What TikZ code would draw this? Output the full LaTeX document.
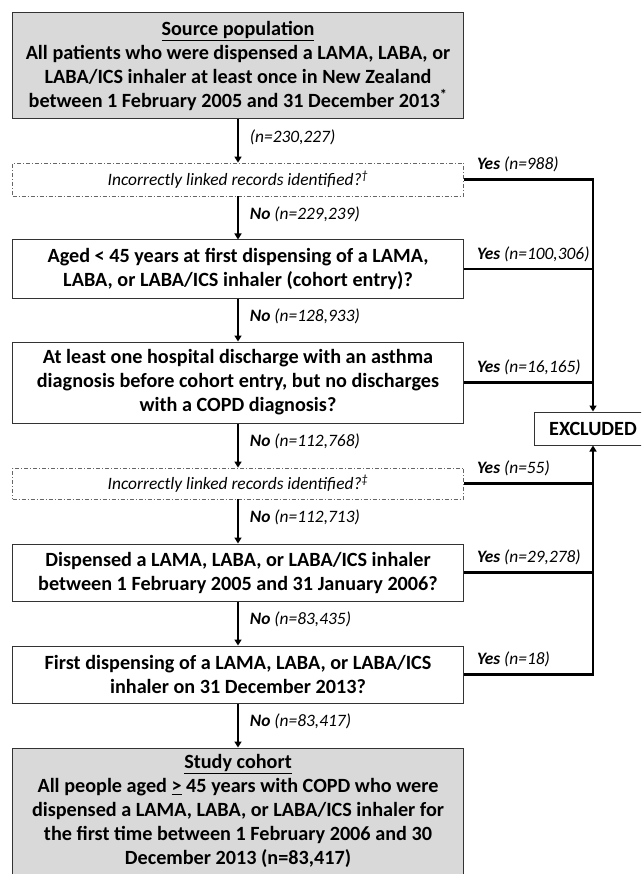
\documentclass[tikz,border=0pt]{standalone}
\usepackage{fontspec}
\setmainfont{Carlito}
\usetikzlibrary{arrows.meta}
\begin{document}
\begin{tikzpicture}[x=1pt,y=-1pt,
  mainbox/.style={draw=black!80, line width=1pt, minimum width=451pt, inner sep=0pt, align=center, font=\fontsize{20.2}{24}\selectfont\bfseries},
  graybox/.style={mainbox, fill=gray!30},
  dashbox/.style={draw=black!60, line width=0.8pt, dash pattern=on 4pt off 2pt on 1pt off 2pt, minimum width=451pt, inner sep=0pt, font=\fontsize{17.4}{20}\selectfont\itshape},
  flow/.style={line width=1.8pt, -{Triangle[length=6pt,width=7pt]}},
  excl/.style={line width=2.2pt},
  exarr/.style={excl, -{Triangle[length=6pt,width=7pt]}},
  lab/.style={font=\fontsize{17.4}{20}\selectfont\itshape, inner sep=0pt, anchor=west},
  nolab/.style={lab, midway, xshift=11pt, yshift=4pt},
  yeslab/.style={lab, pos=0, xshift=12pt, yshift=15pt},
]
\useasboundingbox (0,0) rectangle (641,874);
\clip (0,0) rectangle (641,874);

\node[graybox, minimum height=106pt] (src) at (238,66) {\underline{Source population}\\All patients who were dispensed a LAMA, LABA, or\\LABA/ICS inhaler at least once in New Zealand\\between 1 February 2005 and 31 December 2013\textsuperscript{*}};
\node[dashbox, minimum height=33pt] (d1) at (238,179.5) {Incorrectly linked records identified?\textsuperscript{†}};
\node[mainbox, minimum height=58pt] (age) at (238,269) {Aged < 45 years at first dispensing of a LAMA,\\LABA, or LABA/ICS inhaler (cohort entry)?};
\node[mainbox, minimum height=81pt] (asth) at (238,382.5) {At least one hospital discharge with an asthma\\diagnosis before cohort entry, but no discharges\\with a COPD diagnosis?};
\node[dashbox, minimum height=31pt] (d2) at (238,483.5) {Incorrectly linked records identified?\textsuperscript{‡}};
\node[mainbox, minimum height=57pt] (disp) at (238,572.5) {Dispensed a LAMA, LABA, or LABA/ICS inhaler\\between 1 February 2005 and 31 January 2006?};
\node[mainbox, minimum height=57pt] (first) at (238,674.5) {First dispensing of a LAMA, LABA, or LABA/ICS\\inhaler on 31 December 2013?};
\node[graybox, minimum height=126pt] (study) at (238,811) {\underline{Study cohort}\\All people aged \underline{>} 45 years with COPD who were\\dispensed a LAMA, LABA, or LABA/ICS inhaler for\\the first time between 1 February 2006 and 30\\December 2013 (n=83,417)};
\node[mainbox, minimum width=118pt, minimum height=33pt] (ex) at (593,428.5) {EXCLUDED};

\draw[flow] (src) -- (d1) node[nolab] {(n=230,227)};
\draw[flow] (d1) -- (age) node[nolab] {\textbf{No} (n=229,239)};
\draw[flow] (age) -- (asth) node[nolab] {\textbf{No} (n=128,933)};
\draw[flow] (asth) -- (d2) node[nolab] {\textbf{No} (n=112,768)};
\draw[flow] (d2) -- (disp) node[nolab] {\textbf{No} (n=112,713)};
\draw[flow] (disp) -- (first) node[nolab] {\textbf{No} (n=83,435)};
\draw[flow] (first) -- (study) node[nolab] {\textbf{No} (n=83,417)};

\draw[exarr] (d1.east) -| (ex.north) node[yeslab] {\textbf{Yes} (n=988)};
\draw[excl] (age.east) -- (age.east -| ex.north) node[yeslab] {\textbf{Yes} (n=100,306)};
\draw[excl] (asth.east) -- (asth.east -| ex.north) node[yeslab] {\textbf{Yes} (n=16,165)};
\draw[excl] (d2.east) -- (d2.east -| ex.south) node[yeslab] {\textbf{Yes} (n=55)};
\draw[excl] (disp.east) -- (disp.east -| ex.south) node[yeslab] {\textbf{Yes} (n=29,278)};
\draw[exarr] (first.east) -| (ex.south) node[yeslab] {\textbf{Yes} (n=18)};
\end{tikzpicture}
\end{document}
